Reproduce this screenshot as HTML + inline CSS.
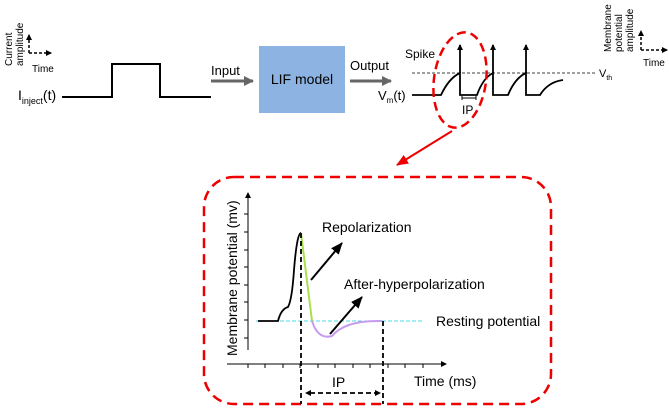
<!DOCTYPE html>
<html><head><meta charset="utf-8"><style>
html,body{margin:0;padding:0;background:#fff;}
svg{display:block;font-family:"Liberation Sans",sans-serif;}
</style></head><body>
<svg width="669" height="409" viewBox="0 0 669 409" xmlns="http://www.w3.org/2000/svg">
<defs>
<marker id="ahs" markerWidth="6" markerHeight="6" refX="5" refY="3" orient="auto" markerUnits="userSpaceOnUse"><path d="M0,0 L6,3 L0,6z" fill="#000"/></marker>
<marker id="ahg" markerWidth="10" markerHeight="10" refX="9" refY="5" orient="auto" markerUnits="userSpaceOnUse"><path d="M0,0 L10,5 L0,10z" fill="#666"/></marker>
<marker id="ahr" markerWidth="12" markerHeight="10" refX="11" refY="5" orient="auto" markerUnits="userSpaceOnUse"><path d="M0,0 L12,5 L0,10z" fill="#e00"/></marker>
<marker id="ahb" markerWidth="12" markerHeight="10" refX="11" refY="5" orient="auto" markerUnits="userSpaceOnUse"><path d="M0,0 L12,5 L0,10z" fill="#000"/></marker>
</defs>
<text transform="translate(12,66) rotate(-90)" font-size="10">Current</text>
<text transform="translate(23,66) rotate(-90)" font-size="10">amplitude</text>
<path d="M29,53 L29,35" stroke="#000" stroke-width="1.5" stroke-dasharray="3,2" marker-end="url(#ahs)" fill="none"/>
<path d="M29,53 L51,53" stroke="#000" stroke-width="1.5" stroke-dasharray="3,2" marker-end="url(#ahs)" fill="none"/>
<text x="32" y="72" font-size="10">Time</text>
<text x="18" y="100" font-size="14">I<tspan font-size="9" dy="4">inject</tspan><tspan dy="-4">(t)</tspan></text>
<path d="M62,97 L112,97 L112,64 L160,64 L160,97 L211,97" stroke="#000" stroke-width="2" fill="none"/>
<text x="211" y="75" font-size="13">Input</text>
<line x1="211" y1="81" x2="253" y2="81" stroke="#666" stroke-width="3" marker-end="url(#ahg)"/>
<rect x="259" y="46" width="86" height="67" fill="#8db3e2"/>
<text x="302" y="84" font-size="14" text-anchor="middle">LIF model</text>
<text x="350" y="70" font-size="13">Output</text>
<line x1="350" y1="81" x2="391" y2="81" stroke="#666" stroke-width="3" marker-end="url(#ahg)"/>
<text x="378" y="100" font-size="13">V<tspan font-size="8" dy="3">m</tspan><tspan dy="-3">(t)</tspan></text>
<text x="405" y="58" font-size="12">Spike</text>
<line x1="412" y1="73" x2="597" y2="73" stroke="#000" stroke-width="0.8" stroke-dasharray="3,2"/>
<text x="599" y="77" font-size="11">V<tspan font-size="7" dy="3">th</tspan></text>
<path d="M412,95 L441,95 Q449,78 460,73 L460,95 L477,95 Q483,78 493,73 L493,95 L508,95 Q515,78 526,73 L526,95 L540,95 Q548,82 563,80" stroke="#000" stroke-width="1.8" fill="none"/>
<line x1="460" y1="73" x2="460" y2="45" stroke="#000" stroke-width="1.8" marker-end="url(#ahs)"/>
<line x1="493" y1="73" x2="493" y2="45" stroke="#000" stroke-width="1.8" marker-end="url(#ahs)"/>
<line x1="526" y1="73" x2="526" y2="45" stroke="#000" stroke-width="1.8" marker-end="url(#ahs)"/>
<path d="M462,98 L476,98" stroke="#000" stroke-width="1"/>
<path d="M462,96 L462,100 M476,96 L476,100" stroke="#000" stroke-width="1"/>
<text x="462" y="114" font-size="12">IP</text>
<ellipse cx="460" cy="80" rx="26" ry="48" transform="rotate(8 460 80)" fill="none" stroke="#e00" stroke-width="2.5" stroke-dasharray="9,5"/>
<line x1="452" y1="131" x2="397" y2="165" stroke="#e00" stroke-width="2" marker-end="url(#ahr)"/>
<text transform="translate(611,52) rotate(-90)" font-size="10">Membrane</text>
<text transform="translate(622,52) rotate(-90)" font-size="10">potential</text>
<text transform="translate(633,52) rotate(-90)" font-size="10">amplitude</text>
<path d="M641,50 L641,31" stroke="#000" stroke-width="1.5" stroke-dasharray="3,2" marker-end="url(#ahs)" fill="none"/>
<path d="M641,50 L667,50" stroke="#000" stroke-width="1.5" stroke-dasharray="3,2" marker-end="url(#ahs)" fill="none"/>
<text x="643" y="66" font-size="10">Time</text>
<rect x="204" y="177" width="347" height="227" rx="30" fill="none" stroke="#e00" stroke-width="2.5" stroke-dasharray="10,6"/>
<line x1="248" y1="350" x2="248" y2="193" stroke="#000" stroke-width="1" marker-end="url(#ahs)"/>
<line x1="227" y1="364" x2="446" y2="364" stroke="#000" stroke-width="1" marker-end="url(#ahs)"/>
<path d="M244,214h4M244,232h4M244,250h4M244,267h4M244,285h4M244,302h4M244,320h4M244,338h4" stroke="#000" stroke-width="1"/>
<path d="M248,364v4M265,364v4M283,364v4M300,364v4M318,364v4M335,364v4M353,364v4M370,364v4M388,364v4M405,364v4M423,364v4" stroke="#000" stroke-width="1"/>
<text transform="translate(237,356) rotate(-90)" font-size="14">Membrane potential (mv)</text>
<line x1="256" y1="321" x2="422" y2="321" stroke="#4dd8e8" stroke-width="1" stroke-dasharray="4,2"/>
<path d="M258,321 L278,321 Q281,309 288,307 Q292,300 294,270 Q297,233 301,233" stroke="#000" stroke-width="1.8" fill="none"/>
<path d="M301,233 L312,321" stroke="#a8e04a" stroke-width="2" fill="none"/>
<path d="M312,321 Q318,340 332,336 Q345,320 382,321" stroke="#c79af0" stroke-width="2" fill="none"/>
<line x1="301" y1="233" x2="301" y2="404" stroke="#000" stroke-width="1.8" stroke-dasharray="5,3"/>
<line x1="383" y1="321" x2="383" y2="404" stroke="#000" stroke-width="1.8" stroke-dasharray="5,3"/>
<line x1="310" y1="393" x2="380" y2="393" stroke="#000" stroke-width="1.8" stroke-dasharray="5,3" marker-end="url(#ahs)"/>
<path d="M305,393 L311,390 L311,396z" fill="#000"/>
<text x="332" y="387" font-size="14">IP</text>
<text x="414" y="386" font-size="14">Time (ms)</text>
<text x="436" y="326" font-size="14">Resting potential</text>
<text x="322" y="232" font-size="14">Repolarization</text>
<text x="344" y="289" font-size="14">After-hyperpolarization</text>
<line x1="311" y1="280" x2="342" y2="243" stroke="#000" stroke-width="2" marker-end="url(#ahb)"/>
<line x1="330" y1="334" x2="362" y2="297" stroke="#000" stroke-width="2" marker-end="url(#ahb)"/>
</svg>
</body></html>
